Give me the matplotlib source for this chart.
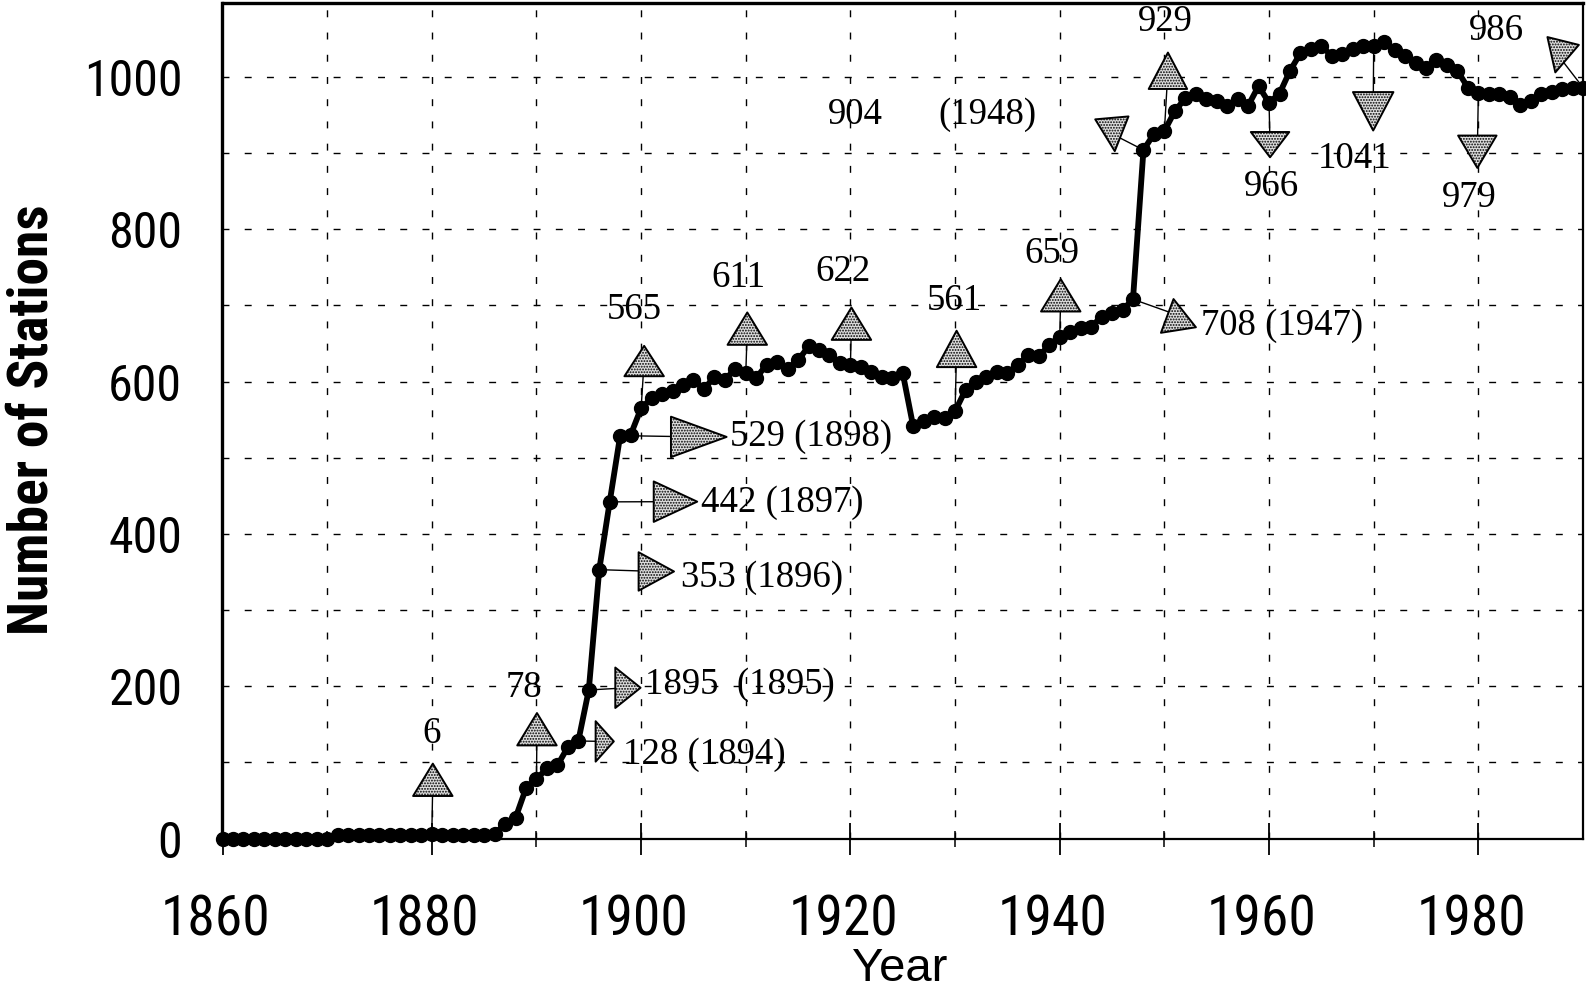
import numpy as np
import matplotlib
matplotlib.use("Agg")
import matplotlib.pyplot as plt
from matplotlib.path import Path
from matplotlib import font_manager as fm
from matplotlib.transforms import ScaledTranslation

# ---------------- data ----------------
years = np.arange(1860, 1991)
stations = (
    [0] * 11 +                                                   # 1860-1870
    [4, 4, 4, 4, 4, 4, 4, 5, 5, 6, 5, 5, 5, 5, 5, 6] +           # 1871-1886
    [19, 27, 66, 78, 92, 96, 120, 128, 195, 353, 442, 529, 530] +  # 1887-1899
    [565, 578, 583, 588, 595, 602, 590, 606, 602, 617] +         # 1900-1909
    [611, 605, 622, 626, 617, 628, 646, 641, 635, 624] +         # 1910-1919
    [622, 619, 613, 606, 604, 611, 541, 548, 553, 552] +         # 1920-1929
    [561, 589, 600, 606, 613, 611, 622, 635, 633, 648] +         # 1930-1939
    [659, 665, 670, 672, 685, 690, 694, 708, 904, 925] +         # 1940-1949
    [929, 955, 972, 978, 971, 968, 962, 971, 962, 988] +         # 1950-1959
    [966, 978, 1008, 1031, 1036, 1040, 1028, 1030, 1036, 1040] +  # 1960-1969
    [1041, 1046, 1035, 1028, 1018, 1012, 1022, 1016, 1008, 986] +  # 1970-1979
    [979, 978, 977, 973, 963, 968, 978, 980, 984, 985] +         # 1980-1989
    [986]                                                        # 1990
)
stations = np.array(stations, dtype=float)

x_ticks = [1860, 1880, 1900, 1920, 1940, 1960, 1980]
y_ticks = [0, 200, 400, 600, 800, 1000]

ann_years = [1880, 1890, 1900, 1910, 1920, 1930, 1940, 1947, 1948, 1950,
             1960, 1970, 1980, 1990, 1894, 1895, 1896, 1897, 1898]
ann_labels = ["6", "78", "565", "611", "622", "561", "659", "708 (1947)", "904",
              "929", "966", "1041", "979", "986", "128 (1894)", "1895  (1895)",
              "353 (1896)", "442 (1897)", "529 (1898)"]
extra_label = "(1948)"

# ---------------- layout / style (pixel offsets, marker shapes) ----------------
tri_off = [(1, 53.5), (0.5, 49.3), (3, 46.6), (1.5, 44), (1, 40.6), (1.5, 61.6),
           (1, 40.8), (42.5, -15.1), (-29.8, 15.3), (3.5, 59.5), (1, -41.4),
           (-0.5, -64.9), (-1, -58.2), (-23.5, 30.5), (26.1, -0.4), (38.7, 2.2),
           (56.4, -1.8), (65, 0.2), (77.7, -1.3)]
txt_off = [(0, 99.5), (-12.5, 90.3), (-7, 97.6), (-7.5, 94), (-7, 91.6), (-0.5, 109.6),
           (-8, 81.8), (67.5, -26.1), (-284.8, 35.3), (0.5, 107.5), (2, -83.4),
           (-18.5, -111.9), (-9, -103.2), (-85.5, 56.5), (44.1, -13.4), (55.7, 5.2),
           (80.4, -7.8), (90, -0.8), (108.7, -1.3)]
extra_off = (-153.8, 35.3)
txt_ha = ["center"] * 7 + ["left"] + ["center"] * 6 + ["left"] * 5
tri_dir = ["up"] * 8 + ["down", "up", "down", "down", "down", "down"] + ["right"] * 5
tri_w = [39, 39, 39, 39, 39, 39, 39, 35, 33, 38, 38, 40, 38, 32, 18, 25, 35, 43, 55]
tri_h = [32, 32, 30, 32, 32, 36, 32, 31, 33, 36, 25, 38, 32, 32, 40, 40, 38, 40, 40]
tri_rot = [0] * 7 + [9, 5, 0, 0, 0, 0, -14] + [0] * 5

W, H, DPI = 1586, 992, 100
S = W / 1568.0  # reference-display to full-size pixels

# ---------------- fonts ----------------
names = {f.name for f in fm.fontManager.ttflist}
narrow = None
for cand in ["Liberation Sans Narrow", "Arial Narrow", "Roboto Condensed",
             "Open Sans Condensed"]:
    if cand in names:
        narrow = cand
        break
if narrow is None:
    tick_font = dict(family="DejaVu Sans Mono")
    xt_size, yt_size, ylab_size = 31, 29, 33
    ylab_font = dict(family="Liberation Sans")
else:
    tick_font = dict(family=narrow)
    xt_size, yt_size, ylab_size = 40, 36, 40
    ylab_font = dict(family=narrow, weight="bold")
serif = "Liberation Serif"
plt.rcParams["hatch.linewidth"] = 0.9

fig = plt.figure(figsize=(W / DPI, H / DPI), dpi=DPI)
ax = fig.add_axes([222.5 / W, 1 - 838.5 / H, (1583 - 222.5) / W, (838.5 - 3) / H])
ax.set_xlim(1860, 1990)
ax.set_ylim(0, 1097)

# grid
for gx in range(1870, 1990, 10):
    ax.axvline(gx, color="black", lw=1.0, ls=(0, (5, 11)), zorder=1)
for gy in range(100, 1100, 100):
    ax.axhline(gy, color="black", lw=1.0, ls=(0, (5, 11)), zorder=1)

# spines
for side, lw in [("left", 2.4), ("top", 2.4), ("right", 1.6), ("bottom", 1.6)]:
    ax.spines[side].set_linewidth(lw)

ax.set_xticks(x_ticks)
ax.set_xticks(range(1870, 1990, 20), minor=True)
ax.set_yticks(y_ticks)
ax.tick_params(axis="x", which="major", direction="inout", length=23, width=1.3,
               pad=28, labelsize=xt_size)
ax.tick_params(axis="x", which="minor", direction="inout", length=12, width=1.1)
ax.tick_params(axis="y", length=0, pad=29, labelsize=yt_size)
for lab in ax.get_xticklabels() + ax.get_yticklabels():
    lab.set_fontfamily(tick_font["family"])
for lab in ax.get_xticklabels():
    lab.set_transform(lab.get_transform() + ScaledTranslation(-7 / DPI, 0, fig.dpi_scale_trans))

# main series
ax.plot(years, stations, "-o", color="black", lw=4.2, ms=10, zorder=3, clip_on=False)

# annotations
def shifted(x, y, d):
    p = ax.transData.transform((x, y)) + np.array(d) * S
    return ax.transData.inverted().transform(p)

def tri_path(direction, w, h, rot):
    if direction == "up":
        v = [(-w / 2, -h / 2), (w / 2, -h / 2), (0, h / 2)]
    elif direction == "down":
        v = [(-w / 2, h / 2), (w / 2, h / 2), (0, -h / 2)]
    else:
        v = [(-w / 2, h / 2), (-w / 2, -h / 2), (w / 2, 0)]
    v = np.array(v, dtype=float)
    a = np.deg2rad(rot)
    R = np.array([[np.cos(a), -np.sin(a)], [np.sin(a), np.cos(a)]])
    v = v @ R.T
    return Path(np.vstack([v, v[:1]]), closed=True), np.abs(v).max()

year_index = {int(y): i for i, y in enumerate(years)}
for i, (yr, lab) in enumerate(zip(ann_years, ann_labels)):
    yv = stations[year_index[yr]]
    tx, ty = shifted(yr, yv, tri_off[i])
    ax.plot([yr, tx], [yv, ty], color="black", lw=1.0, zorder=2, clip_on=False)
    path, m = tri_path(tri_dir[i], tri_w[i] * S, tri_h[i] * S, tri_rot[i])
    size_pt = 2 * m * 72 / DPI
    ax.scatter([tx], [ty], s=size_pt ** 2, marker=path, facecolor="#dedede",
               edgecolor="black", linewidths=1.4, hatch="......", zorder=4,
               clip_on=False)
    lx, ly = shifted(yr, yv, txt_off[i])
    ax.text(lx, ly, lab, ha=txt_ha[i], va="center", fontsize=26.5,
            family=serif, zorder=5, clip_on=False)
    if yr == 1948:
        ex, ey = shifted(yr, yv, extra_off)
        ax.text(ex, ey, extra_label, ha="center", va="center", fontsize=26.5,
                family=serif, zorder=5)

# axis titles
fig.text(33 / W, 1 - 420 / H, "Number of Stations", rotation=90, ha="center",
         va="center", fontsize=ylab_size, **ylab_font)
fig.text(900 / W, 1 - 981 / H, "Year", ha="center", va="baseline", fontsize=34,
         family="Liberation Sans")

fig.savefig("out.png", dpi=DPI)
